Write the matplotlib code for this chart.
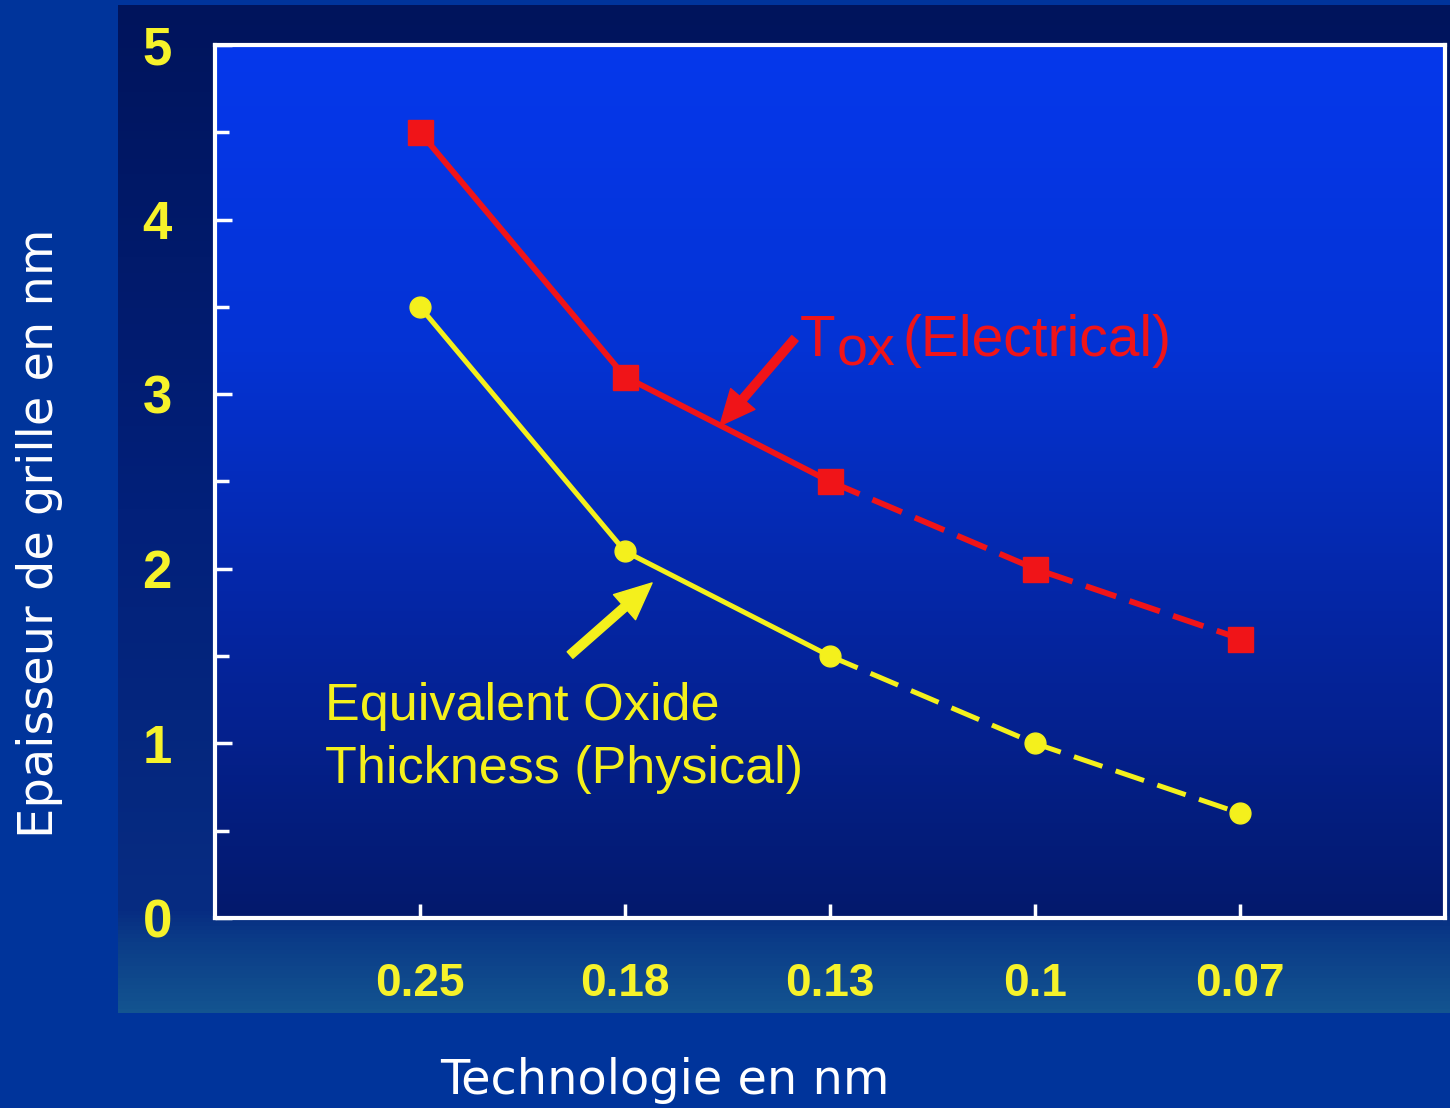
import numpy as np
import matplotlib
matplotlib.use("Agg")
import matplotlib.pyplot as plt
from matplotlib.colors import LinearSegmentedColormap

# donnees
tech_labels = ["0.25", "0.18", "0.13", "0.1", "0.07"]
tox_electrical = [4.5, 3.1, 2.5, 2.0, 1.6]
eot_physical = [3.5, 2.1, 1.5, 1.0, 0.6]
y_ticks = [0, 1, 2, 3, 4, 5]

RED = "#f01418"
YELLOW = "#f4f01c"
LABEL_YELLOW = "#f6f22a"
NARROW = ["Liberation Sans Narrow", "Liberation Sans", "DejaVu Sans"]
ARIAL = ["Liberation Sans", "DejaVu Sans"]

W, H = 1450, 1108
fig = plt.figure(figsize=(W / 100, H / 100), dpi=100, facecolor="#00349b")

# fond de l'image (zone sombre derriere le graphe)
bg = fig.add_axes([118 / W, 1 - 1013 / H, (W - 118) / W, (1013 - 5) / H], zorder=0)
bg_cmap = LinearSegmentedColormap.from_list(
    "bg", [(0.0, "#00145c"), (0.5, "#02207a"), (0.9, "#072c82"), (0.93, "#0b3c88"), (1.0, "#135490")])
bg.imshow(np.linspace(0, 1, 256).reshape(-1, 1), cmap=bg_cmap, aspect="auto",
          extent=[0, 1, 0, 1], origin="upper")
bg.axis("off")

# axes principal
ax = fig.add_axes([215 / W, 1 - 918 / H, (1445 - 215) / W, (918 - 45) / H], zorder=1)
ax_cmap = LinearSegmentedColormap.from_list(
    "panel", [(0.0, "#0638ec"), (0.35, "#0433d4"), (0.65, "#0526a4"), (1.0, "#03196c")])
ax.imshow(np.linspace(0, 1, 256).reshape(-1, 1), cmap=ax_cmap, aspect="auto",
          extent=[0, 6, 0, 5], origin="upper", zorder=0)

x = np.arange(1, len(tech_labels) + 1)

# partie mesuree (trait plein) puis projection (pointilles)
ax.plot(x[:3], tox_electrical[:3], color=RED, lw=4.2, zorder=3, solid_capstyle="butt")
ax.plot(x[2:], tox_electrical[2:], color=RED, lw=4.2, dashes=(5.5, 2.4), zorder=3)
ax.plot(x, tox_electrical, ls="none", marker="s", ms=18, color=RED, zorder=4)

ax.plot(x[:3], eot_physical[:3], color=YELLOW, lw=3.6, zorder=3)
ax.plot(x[2:], eot_physical[2:], color=YELLOW, lw=3.6, dashes=(6, 2.8), zorder=3)
ax.plot(x, eot_physical, ls="none", marker="o", ms=15, color=YELLOW, zorder=4)

ax.set_xlim(0, 6)
ax.set_ylim(0, 5)

for s in ax.spines.values():
    s.set_color("white")
    s.set_linewidth(3)

ax.set_xticks(x)
ax.set_xticklabels(tech_labels)
ax.set_yticks(y_ticks)
ax.set_yticks(np.arange(0.5, 5, 1.0), minor=True)
ax.tick_params(axis="both", which="both", direction="in", color="white", width=2.5)
ax.tick_params(axis="x", length=10, pad=32)
ax.tick_params(axis="y", which="major", length=12, pad=31)
ax.tick_params(axis="y", which="minor", length=10)
for lab in ax.get_xticklabels():
    lab.set_fontfamily(NARROW)
    lab.set_fontweight("bold")
    lab.set_fontsize(33)
    lab.set_color(LABEL_YELLOW)
for lab in ax.get_yticklabels():
    lab.set_fontfamily(NARROW)
    lab.set_fontweight("bold")
    lab.set_fontsize(38)
    lab.set_color(LABEL_YELLOW)

# annotations
arrow_style = "simple,head_length=1.1,head_width=1.0,tail_width=0.26"
ax.text(2.854, 3.22, "T", color=RED, fontsize=42, family=ARIAL, va="baseline", zorder=5)
ax.text(3.03, 3.165, "ox", color=RED, fontsize=40, family=ARIAL, va="baseline", zorder=5)
ax.text(3.356, 3.22, "(Electrical)", color=RED, fontsize=41, family=ARIAL, va="baseline", zorder=5)
ax.annotate("", xy=(2.463, 2.82), xytext=(2.829, 3.32),
            arrowprops=dict(arrowstyle=arrow_style, color=RED, shrinkA=0, shrinkB=0,
                            mutation_scale=23), zorder=5)

ax.text(0.537, 1.134, "Equivalent Oxide", color=YELLOW, fontsize=37.5, family=ARIAL,
        va="baseline", zorder=5)
ax.text(0.537, 0.773, "Thickness (Physical)", color=YELLOW, fontsize=37.5, family=ARIAL,
        va="baseline", zorder=5)
ax.annotate("", xy=(2.132, 1.919), xytext=(1.732, 1.506),
            arrowprops=dict(arrowstyle=arrow_style, color=YELLOW, shrinkA=0, shrinkB=0,
                            mutation_scale=24), zorder=5)

# titres des axes
fig.text(40 / W, 1 - 533 / H, "Epaisseur de grille en nm", rotation=90, color="white",
         fontsize=34.5, family="DejaVu Sans", ha="center", va="center")
fig.text(665 / W, 1 - 1080 / H, "Technologie en nm", color="white",
         fontsize=34.5, family="DejaVu Sans", ha="center", va="center")

fig.savefig("out.png", dpi=100, facecolor=fig.get_facecolor())
